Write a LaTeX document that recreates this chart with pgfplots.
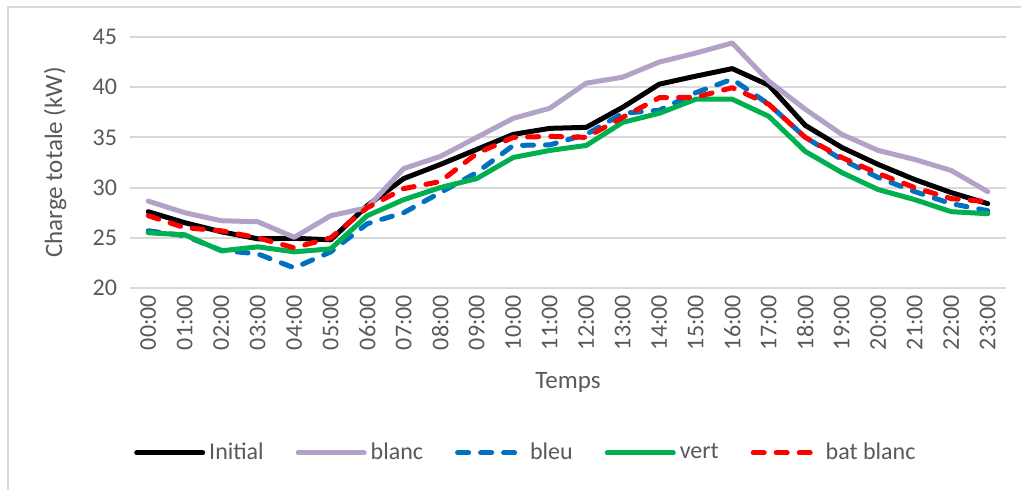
\documentclass[border=0pt]{standalone}
\usepackage{pgfplots}
\usepackage{pgfplotstable}
\pgfplotsset{compat=1.18}
\usepackage{fontspec}
\setmainfont{Carlito}

\definecolor{txt}{HTML}{595959}
\definecolor{grd}{HTML}{D9D9D9}
\definecolor{cblanc}{HTML}{B3A2C7}
\definecolor{cbleu}{HTML}{0070C0}
\definecolor{cvert}{HTML}{00B050}
\definecolor{cbat}{HTML}{FF0000}

% heure, Initial, blanc, bleu, vert, bat blanc
\pgfplotstableread{
h  init   blanc  bleu   vert   bat
0  27.6   28.65  25.7   25.5   27.2
1  26.5   27.5   25.2   25.3   26.0
2  25.6   26.7   23.75  23.7   25.7
3  24.9   26.6   23.4   24.1   25.0
4  24.95  25.05  22.0   23.6   24.0
5  24.8   27.2   23.6   23.9   25.0
6  28.2   28.0   26.4   27.2   28.0
7  30.9   31.9   27.5   28.8   29.9
8  32.3   33.1   29.5   30.0   30.6
9  33.8   35.0   31.5   30.9   33.4
10 35.3   36.9   34.2   33.0   35.0
11 35.9   37.9   34.25  33.7   35.1
12 36.0   40.4   35.3   34.2   35.0
13 38.0   41.0   37.4   36.5   37.0
14 40.3   42.5   37.7   37.4   38.95
15 41.1   43.4   39.45  38.8   39.0
16 41.85  44.4   40.8   38.8   39.95
17 40.2   40.6   38.3   37.1   38.3
18 36.2   37.8   35.0   33.6   35.0
19 34.0   35.3   32.8   31.5   33.0
20 32.3   33.7   31.0   29.8   31.4
21 30.8   32.8   29.6   28.8   30.0
22 29.5   31.7   28.4   27.6   28.9
23 28.4   29.6   27.7   27.4   28.6
}\data

\begin{document}
\begin{tikzpicture}
\useasboundingbox (-65pt,-101pt) rectangle (445.5pt,144pt);
\draw[grd, line width=1pt] (-61pt,-101pt) -- (-61pt,140.5pt) -- (445.5pt,140.5pt);
\begin{axis}[
  at={(0pt,0pt)}, anchor=south west,
  scale only axis, width=438pt, height=125.5pt,
  xmin=-0.5, xmax=23.5, ymin=20, ymax=45,
  xtick=data,
  xticklabels={00:00,01:00,02:00,03:00,04:00,05:00,06:00,07:00,08:00,09:00,10:00,11:00,12:00,13:00,14:00,15:00,16:00,17:00,18:00,19:00,20:00,21:00,22:00,23:00},
  ytick={20,25,30,35,40,45},
  ymajorgrids, major grid style={grd, line width=1pt},
  axis line style={draw=none}, major tick length=0pt,
  /pgf/number format/assume math mode=true,
  tick label style={text=txt, font=\fontsize{12pt}{14pt}\selectfont},
  xticklabel style={rotate=90, anchor=east, xshift=0pt},
  yticklabel style={xshift=-3pt},
  xlabel={Temps}, ylabel={Charge totale (kW)},
  label style={text=txt, font=\fontsize{12.5pt}{15pt}\selectfont},
  xlabel style={at={(axis description cs:0.5,-0.378)}, anchor=center},
  ylabel style={at={(axis description cs:-0.0856,0.5)}, anchor=center},
  legend columns=5,
  legend style={at={(0.453,-0.657)}, anchor=center, draw=none, fill=none,
    font=\fontsize{12pt}{14pt}\selectfont, text=txt,
    /tikz/every even column/.append style={column sep=14pt}},
  legend image code/.code={\draw[#1] (0pt,0pt) -- (33pt,0pt);},
  every axis plot/.append style={line width=2.5pt, line join=round, line cap=round},
]
\addplot[black] table[x=h, y=init] {\data};
\addlegendentry{Initial}
\addplot[cblanc] table[x=h, y=blanc] {\data};
\addlegendentry{blanc}
\addplot[cbleu, dash pattern=on 5.5pt off 6pt] table[x=h, y=bleu] {\data};
\addlegendentry{bleu}
\addplot[cvert] table[x=h, y=vert] {\data};
\addlegendentry{vert}
\addplot[cbat, dash pattern=on 5.5pt off 6pt] table[x=h, y=bat] {\data};
\addlegendentry{bat blanc}
\end{axis}
\end{tikzpicture}
\end{document}
